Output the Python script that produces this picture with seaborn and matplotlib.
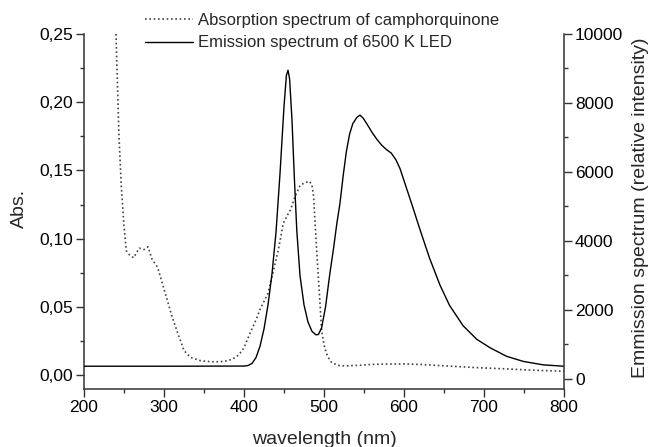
import matplotlib
matplotlib.use("Agg")
import matplotlib.pyplot as plt
from matplotlib.ticker import FuncFormatter, MultipleLocator
import seaborn as sns
import pandas as pd

# Absorption spectrum of camphorquinone (left axis, Abs.)
abs_wavelength = [240, 243.7, 246.7, 250, 253, 257, 262, 266, 269, 275, 280, 285, 292,
                  298, 304, 310, 317, 325, 333, 346, 358, 370, 380, 390, 395, 400, 407,
                  414, 420, 430, 437, 443, 449, 455, 458, 464, 470, 476, 482, 485, 487,
                  489, 491, 494, 497, 500, 503, 508, 512, 520, 530, 545, 560, 580, 600,
                  620, 650, 680, 700, 730, 760, 800]
abs_values = [0.25, 0.175, 0.138, 0.109, 0.091, 0.088, 0.086, 0.090, 0.093, 0.092, 0.094,
              0.085, 0.079, 0.067, 0.055, 0.043, 0.031, 0.018, 0.013, 0.0105, 0.0098,
              0.0098, 0.0105, 0.013, 0.016, 0.020, 0.030, 0.039, 0.048, 0.060, 0.077,
              0.092, 0.111, 0.118, 0.121, 0.131, 0.139, 0.141, 0.142, 0.139, 0.131,
              0.110, 0.090, 0.062, 0.033, 0.022, 0.016, 0.010, 0.0085, 0.0068, 0.0068,
              0.0072, 0.0078, 0.0081, 0.0082, 0.0078, 0.0068, 0.0058, 0.0052, 0.0045,
              0.0036, 0.0028]

# Emission spectrum of 6500 K LED (right axis, relative intensity)
em_wavelength = [200, 300, 400, 405, 410, 415, 420, 425, 430, 435, 440, 445, 450, 453,
                 455, 457, 460, 463, 466, 470, 475, 480, 485, 490, 493, 497, 502, 507,
                 512, 516, 520, 524, 528, 532, 536, 541, 545, 549, 554, 560, 566, 572,
                 578, 584, 590, 595, 600, 605, 610, 620, 632, 645, 657, 674, 691, 708,
                 728, 749, 774, 800]
em_values = [370, 370, 375, 390, 450, 620, 950, 1450, 2150, 3050, 4250, 5950, 7900, 8800,
             8950, 8700, 7500, 5800, 4300, 3000, 2150, 1650, 1380, 1280, 1290, 1480, 2100,
             3000, 3800, 4500, 5100, 5900, 6600, 7100, 7400, 7580, 7650, 7560, 7380, 7150,
             6950, 6780, 6650, 6550, 6350, 6100, 5750, 5400, 5050, 4330, 3500, 2720, 2130,
             1540, 1150, 900, 660, 510, 410, 370]

label_abs = "Absorption spectrum of camphorquinone"
label_em = "Emission spectrum of 6500 K LED"
xlabel = "wavelength (nm)"
ylabel_left = "Abs."
ylabel_right = "Emmission spectrum (relative intensity)"

sns.set_style("ticks")
plt.rcParams["font.family"] = ["Liberation Sans", "DejaVu Sans"]
plt.rcParams["font.size"] = 12

df_abs = pd.DataFrame({"wl": abs_wavelength, "val": abs_values})
df_em = pd.DataFrame({"wl": em_wavelength, "val": em_values})

fig = plt.figure(figsize=(6.52, 4.47), dpi=100)
ax = fig.add_axes([84 / 652, 1 - 389 / 447, (564 - 84) / 652, (389 - 34) / 447])
ax2 = ax.twinx()

sns.lineplot(data=df_abs, x="wl", y="val", ax=ax, color="#444444", linestyle=(0, (1, 1.6)),
             linewidth=1.2, label=label_abs, legend=False, sort=False)
sns.lineplot(data=df_em, x="wl", y="val", ax=ax2, color="black", linewidth=1.0,
             label=label_em, legend=False, sort=False)

ax.set_xlim(200, 800)
ax.set_ylim(-0.0102, 0.25)
ax2.set_ylim(-290, 10000)

ax.xaxis.set_major_locator(MultipleLocator(100))
ax.xaxis.set_minor_locator(MultipleLocator(50))
ax.yaxis.set_major_locator(MultipleLocator(0.05))
ax.yaxis.set_minor_locator(MultipleLocator(0.025))
ax2.yaxis.set_major_locator(MultipleLocator(2000))
ax2.yaxis.set_minor_locator(MultipleLocator(1000))
ax.yaxis.set_major_formatter(FuncFormatter(lambda v, p: f"{v:.2f}".replace(".", ",")))

for a in (ax, ax2):
    a.tick_params(which="major", direction="out", length=5.5, width=1.0, color="#333333",
                  labelsize=12.5, labelcolor="black", pad=2.5)
    a.tick_params(which="minor", direction="out", length=3, width=1.0, color="#333333")
    for s in a.spines.values():
        s.set_color("#333333")
        s.set_linewidth(1.1)
    a.spines["top"].set_visible(False)

ax.spines["right"].set_visible(False)
ax2.spines["left"].set_visible(False)
ax2.spines["bottom"].set_visible(False)

ax.set_xlabel(xlabel, fontsize=14)
ax.set_ylabel(ylabel_left, fontsize=14)
ax2.set_ylabel(ylabel_right, fontsize=14)

ax.xaxis.set_label_coords(0.501, -0.141)
ax.xaxis.label.set_verticalalignment("center")
ax.yaxis.set_label_coords(-0.1354, 0.51)
ax.yaxis.label.set_verticalalignment("center")
ax2.yaxis.set_label_coords(1.1604, 0.511)
ax2.yaxis.label.set_verticalalignment("center")

h1, l1 = ax.get_legend_handles_labels()
h2, l2 = ax2.get_legend_handles_labels()
fig.legend(h1 + h2, l1 + l2, loc="upper left", bbox_to_anchor=(145 / 652, 1 - 13 / 447),
           frameon=False, borderpad=0, borderaxespad=0, handlelength=2.9,
           handletextpad=0.25, labelspacing=0.45, fontsize=12)

fig.savefig("out.png", dpi=100)
